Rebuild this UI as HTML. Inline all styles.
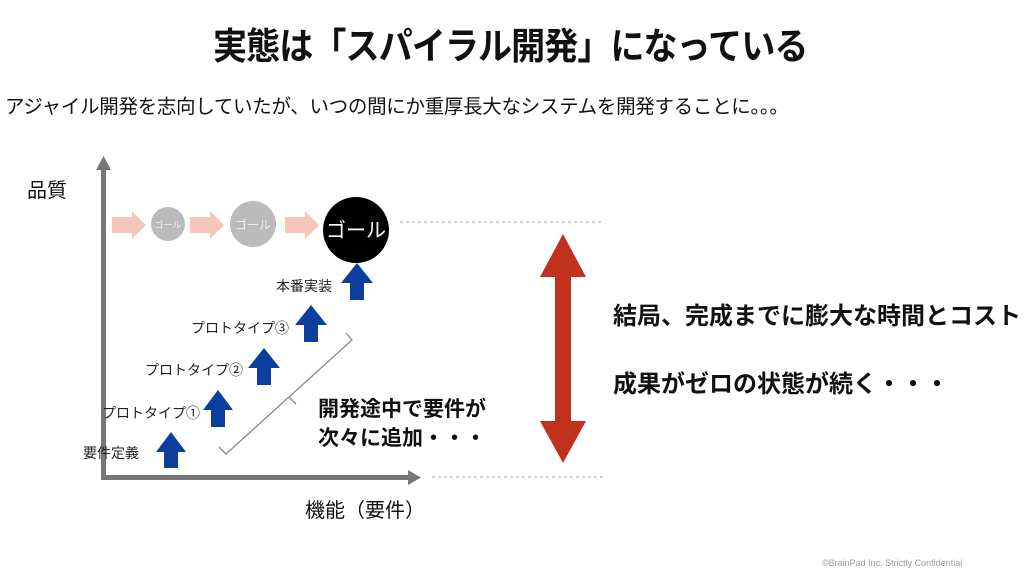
<!DOCTYPE html>
<html><head><meta charset="utf-8"><style>
body{margin:0;width:1024px;height:582px;background:#fff;overflow:hidden;font-family:"Liberation Sans","Noto Sans CJK JP",sans-serif;color:#111}
.t{position:absolute;white-space:nowrap}
</style></head><body>
<div class="t" style="left:213px;top:16px;font-size:37px;font-weight:bold;letter-spacing:-1px;transform:scaleX(0.92);transform-origin:0 0">実態は「スパイラル開発」になっている</div>
<div class="t" style="left:5px;top:90px;font-size:19.5px;letter-spacing:-0.3px">アジャイル開発を志向していたが、いつの間にか重厚長大なシステムを開発することに。。。</div>
<svg width="1024" height="582" style="position:absolute;left:0;top:0;font-family:'Liberation Sans','Noto Sans CJK JP',sans-serif">
<g fill="#777"><rect x="101" y="168" width="5" height="312"/><polygon points="96,170 111,170 103.5,156"/>
<rect x="101" y="475" width="310" height="5"/><polygon points="408,470 408,485 421,477.5"/></g>
<g stroke="#aaa" stroke-dasharray="3,3" stroke-width="1"><line x1="400" y1="222" x2="604" y2="222"/><line x1="432" y1="477" x2="604" y2="477"/></g>
<g fill="#f6c6bb"><polygon points="112,217 132,217 132,211 146,225 132,239 132,233 112,233"/>
<polygon points="190,217 210,217 210,211 224,225 210,239 210,233 190,233"/>
<polygon points="285,217 305,217 305,211 319,225 305,239 305,233 285,233"/></g>
<circle cx="168" cy="224" r="17" fill="#bbb"/><circle cx="253" cy="224" r="23" fill="#bbb"/><circle cx="356" cy="230" r="33" fill="#000"/>
<text x="168" y="228" font-size="9" fill="#eee" text-anchor="middle">ゴール</text>
<text x="253" y="229" font-size="12" fill="#eee" text-anchor="middle">ゴール</text>
<text x="356" y="237" font-size="20" fill="#fff" text-anchor="middle">ゴール</text>
<g fill="#0b3e9e">
<polygon points="164,468 178,468 178,452 186,452 171,432 156,452 164,452"/>
<polygon points="211,427 225,427 225,410 233,410 218,390 203,410 211,410"/>
<polygon points="257,385 271,385 271,368 280,368 264,348 248,368 257,368"/>
<polygon points="304,342 318,342 318,325 327,325 311,305 295,325 304,325"/>
<polygon points="350,300 364,300 364,283 373,283 357,263 341,283 350,283"/></g>
<g stroke="#888" stroke-width="1.3" fill="none"><polyline points="219,447 226,454 352,340 346,333"/><polyline points="289,397 296,404"/></g>
<polygon points="563,234 586,277 571,277 571,421 586,421 563,463 540,421 555,421 555,277 540,277" fill="#c0321c"/>
<g font-size="14" fill="#222" text-anchor="end">
<text x="139" y="458">要件定義</text>
<text x="200" y="418">プロトタイプ①</text>
<text x="243" y="375">プロトタイプ②</text>
<text x="289" y="333">プロトタイプ③</text>
<text x="332" y="291">本番実装</text></g>
</svg>
<div class="t" style="left:27px;top:174px;font-size:20px">品質</div>
<div class="t" style="left:305px;top:494px;font-size:20px">機能（要件）</div>
<div class="t" style="left:318px;top:395px;font-size:21px;font-weight:bold;line-height:29px">開発途中で要件が<br>次々に追加・・・</div>
<div class="t" style="left:613px;top:296px;font-size:24px;font-weight:bold">結局、完成までに膨大な時間とコスト</div>
<div class="t" style="left:613px;top:364px;font-size:24px;font-weight:bold">成果がゼロの状態が続く・・・</div>
<div class="t" style="left:822px;top:558px;font-size:9px;color:#999">©BrainPad Inc. Strictly Confidential</div>
</body></html>
